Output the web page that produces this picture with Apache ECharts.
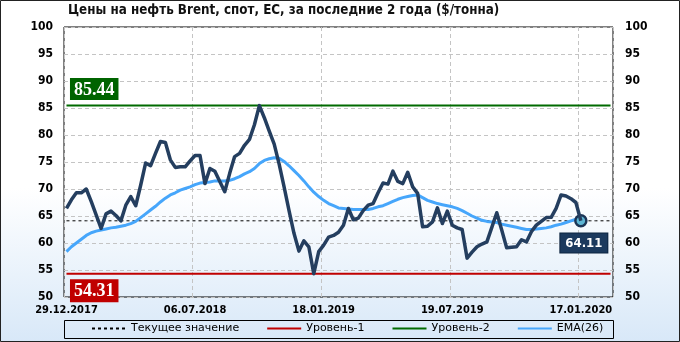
<!DOCTYPE html>
<html>
<head>
<meta charset="utf-8">
<script src="https://cdn.jsdelivr.net/npm/echarts@6/dist/echarts.min.js"></script>
<style>
  html, body { margin: 0; padding: 0; background: #fff; }
  #chart { width: 680px; height: 342px; }
</style>
</head>
<body>
<div id="chart"></div>
<script>
const titleText = 'Цены на нефть Brent, спот, ЕС, за последние 2 года ($/тонна)';
const tickLabels = ['29.12.2017', '06.07.2018', '18.01.2019', '19.07.2019', '17.01.2020'];
const tickStep = 26;
const emptySlots = 6;

const brent = [
  66.4, 68.0, 69.3, 69.3, 70.0, 67.7, 65.2, 62.7, 65.4, 65.9,
  65.1, 64.1, 67.0, 68.6, 66.9, 70.7, 74.8, 74.3, 76.6, 78.8,
  78.6, 75.4, 74.0, 74.1, 74.1, 75.2, 76.2, 76.2, 71.0, 73.8,
  73.3, 71.4, 69.5, 72.9, 76.0, 76.6, 78.1, 79.2, 81.9, 85.44,
  83.2, 80.7, 78.3, 74.6, 70.4, 66.0, 61.8, 58.5, 60.4, 59.3,
  54.31, 58.4, 59.6, 61.1, 61.4, 62.0, 63.3, 66.4, 64.3, 64.6,
  66.0, 67.0, 67.3, 69.3, 71.1, 70.9, 73.3, 71.4, 71.0, 73.1,
  70.4, 69.2, 63.0, 63.1, 63.9, 66.5, 63.6, 65.9, 63.3, 62.8,
  62.5, 57.2, 58.3, 59.3, 59.8, 60.2, 62.9, 65.6, 62.4, 59.1,
  59.2, 59.3, 60.6, 60.2, 62.1, 63.3, 64.0, 64.7, 64.75, 66.4,
  68.9, 68.7, 68.2, 67.5, 64.11
];

const ema26 = [
  58.4, 59.3, 60.0, 60.7, 61.4, 61.9, 62.2, 62.4, 62.6, 62.8,
  62.9, 63.1, 63.3, 63.6, 64.0, 64.7, 65.4, 66.1, 66.8, 67.6,
  68.3, 68.9, 69.3, 69.8, 70.1, 70.4, 70.8, 71.1, 71.2, 71.3,
  71.5, 71.5, 71.5, 71.6, 71.9, 72.3, 72.8, 73.2, 73.8, 74.7,
  75.3, 75.6, 75.8, 75.7, 75.1, 74.3, 73.4, 72.5, 71.5, 70.4,
  69.4, 68.6, 67.9, 67.3, 66.9, 66.5, 66.4, 66.3, 66.2, 66.2,
  66.2, 66.2, 66.4, 66.7, 66.9, 67.3, 67.7, 68.1, 68.4, 68.6,
  68.8, 68.9, 68.4, 67.9, 67.6, 67.3, 67.1, 66.9, 66.7, 66.4,
  66.0, 65.5, 65.0, 64.6, 64.2, 64.0, 63.9, 63.8, 63.5, 63.3,
  63.1, 62.9, 62.7, 62.5, 62.5, 62.6, 62.7, 62.8, 63.0, 63.3,
  63.5, 63.8, 64.1, 64.4, 64.6
];

const level1 = 54.31;
const level2 = 85.44;
const currentValue = brent[brent.length - 1];

const slotCount = brent.length + emptySlots;
const categories = [];
for (let i = 0; i < slotCount; i++) {
  categories.push(i % tickStep === 0 && tickLabels[i / tickStep] ? tickLabels[i / tickStep] : '');
}
const flat = v => categories.map(() => v);

const condensed = "'DejaVu Sans Condensed', 'DejaVu Sans', sans-serif";
const lastIdx = brent.length - 1;

const chart = echarts.init(document.getElementById('chart'));
chart.setOption({
  animation: false,
  graphic: [
    {
      type: 'rect', z: -10, silent: true,
      shape: { x: 0.5, y: 0.5, width: 679, height: 341 },
      style: {
        fill: new echarts.graphic.LinearGradient(0, 0, 0, 1, [
          { offset: 0, color: '#ffffff' },
          { offset: 0.55, color: '#ffffff' },
          { offset: 1, color: '#d8e8f8' }
        ]),
        stroke: '#222', lineWidth: 1
      }
    },
    {
      type: 'rect', z: -5, silent: true,
      shape: { x: 64.5, y: 320.5, width: 549, height: 18 },
      style: { fill: 'transparent', stroke: '#000', lineWidth: 1 }
    }
  ],
  title: {
    text: titleText,
    left: 68, top: 4, padding: 0,
    textStyle: { fontFamily: condensed, fontSize: 13.3, fontWeight: 'bold', color: '#111' }
  },
  grid: {
    left: 64, right: 67, top: 27, bottom: 45,
    show: true, borderColor: '#000', borderWidth: 1, backgroundColor: 'transparent'
  },
  legend: {
    data: ['Текущее значение', 'Уровень-1', 'Уровень-2', 'EMA(26)'],
    left: 91, top: 323, padding: 0,
    itemWidth: 34, itemHeight: 10, itemGap: 27,
    itemStyle: { opacity: 0 },
    textStyle: { fontFamily: "'DejaVu Sans', sans-serif", fontSize: 11, color: '#000' }
  },
  xAxis: {
    type: 'category',
    data: categories,
    boundaryGap: true,
    axisLine: { show: false },
    axisTick: { show: false },
    axisLabel: {
      interval: tickStep - 1, margin: 8,
      fontFamily: condensed, fontSize: 11, fontWeight: 'bold', color: '#000'
    },
    splitLine: { show: true, interval: tickStep - 1, lineStyle: { color: '#c4c4c4', type: [4, 3], width: 1 } }
  },
  yAxis: [
    {
      type: 'value', min: 50, max: 100, interval: 5, position: 'left',
      axisLine: { show: false }, axisTick: { show: false },
      axisLabel: { margin: 11, fontFamily: condensed, fontSize: 12, fontWeight: 'bold', color: '#000' },
      splitLine: { show: true, lineStyle: { color: '#c4c4c4', type: [4, 3], width: 1 } }
    },
    {
      type: 'value', min: 50, max: 100, interval: 5, position: 'right',
      axisLine: { show: false }, axisTick: { show: false },
      axisLabel: { margin: 12, fontFamily: condensed, fontSize: 12, fontWeight: 'bold', color: '#000' },
      splitLine: { show: false }
    }
  ],
  series: [
    {
      name: 'Уровень-1', type: 'line', data: flat(level1), symbol: 'none', z: 2,
      lineStyle: { color: '#c00000', width: 2 }, itemStyle: { color: '#c00000' },
      markPoint: {
        symbol: 'rect', symbolSize: 1, itemStyle: { color: 'transparent' },
        data: [{
          coord: [0, level1],
          label: {
            show: true, formatter: level1.toFixed(2), position: [4, 6], align: 'left', verticalAlign: 'top',
            backgroundColor: '#c00000', color: '#fff', padding: [3, 4, 2, 4],
            fontFamily: "'Liberation Serif', 'DejaVu Serif', serif", fontSize: 18, fontWeight: 'bold'
          }
        }]
      }
    },
    {
      name: 'Уровень-2', type: 'line', data: flat(level2), symbol: 'none', z: 2,
      lineStyle: { color: '#006a00', width: 2 }, itemStyle: { color: '#006a00' },
      markPoint: {
        symbol: 'rect', symbolSize: 1, itemStyle: { color: 'transparent' },
        data: [{
          coord: [0, level2],
          label: {
            show: true, formatter: level2.toFixed(2), position: [4, -5], align: 'left', verticalAlign: 'bottom',
            backgroundColor: '#006400', color: '#fff', padding: [3, 4, 1, 4],
            fontFamily: "'Liberation Serif', 'DejaVu Serif', serif", fontSize: 18, fontWeight: 'bold'
          }
        }]
      }
    },
    {
      name: 'Текущее значение', type: 'line', data: flat(currentValue), symbol: 'none', z: 3,
      lineStyle: { color: '#000', width: 1, type: [3, 3] }, itemStyle: { color: '#000' }
    },
    {
      name: 'EMA(26)', type: 'line', data: ema26, symbol: 'none', z: 4,
      lineStyle: { color: '#46a6fb', width: 3 }, itemStyle: { color: '#46a6fb' }
    },
    {
      name: 'Brent', type: 'line', data: brent, symbol: 'none', z: 5,
      lineStyle: { color: '#243e5f', width: 3.5, join: 'round' }, itemStyle: { color: '#243e5f' },
      markPoint: {
        symbol: 'circle', symbolSize: 11,
        itemStyle: { color: '#5db6d4', borderColor: '#1b3556', borderWidth: 2.5 },
        data: [{
          coord: [lastIdx, currentValue],
          label: {
            show: true, formatter: currentValue.toFixed(2), position: 'bottom', distance: 6, offset: [3, 0],
            backgroundColor: '#1c3a5e', borderColor: '#0d2440', borderWidth: 1, color: '#fff',
            padding: [4, 5, 2, 5], fontFamily: condensed, fontSize: 13, fontWeight: 'bold'
          }
        }]
      }
    }
  ]
});
</script>
</body>
</html>
